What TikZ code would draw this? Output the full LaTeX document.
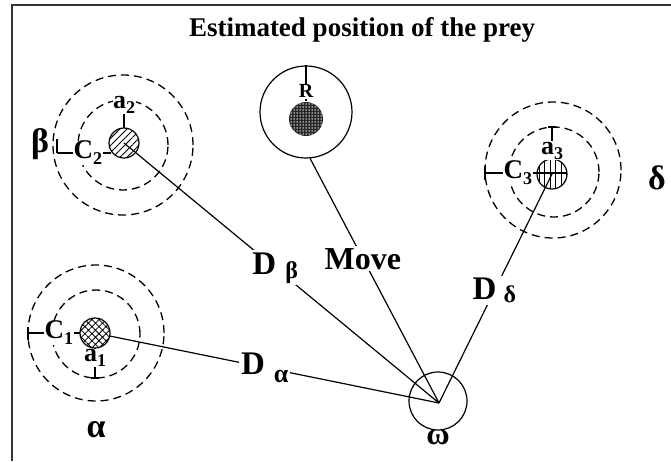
\documentclass[tikz,border=0pt]{standalone}
\usepackage{fontspec}
\setmainfont{Liberation Serif}
\usetikzlibrary{patterns.meta}
\newcommand{\lowtxt}[3]{\raisebox{-#1pt}{\fontsize{#2}{#2}\selectfont #3}}
\begin{document}
\begin{tikzpicture}[x=1pt,y=-1pt,line width=1.2pt,
  ring/.style={circle,draw,inner sep=0pt,dash pattern=on 8pt off 5pt,line width=1.3pt},
  smallc/.style={circle,draw,inner sep=0pt,minimum size=30pt,line width=1.2pt},
  lbl/.style={fill=white,inner sep=1pt},
  dlbl/.style={fill=white,inner sep=2pt,font=\fontsize{33}{33}\selectfont\bfseries},
  clbl/.style={fill=white,inner sep=0.5pt,font=\fontsize{27}{27}\selectfont\bfseries},
  albl/.style={fill=white,inner sep=0.5pt,font=\fontsize{26}{26}\selectfont\bfseries},
  glbl/.style={inner sep=0pt,font=\fontsize{34}{34}\selectfont\bfseries}]
\useasboundingbox (0,0) rectangle (671,461);
% frame
\draw[line width=1.6pt,black!80] (12,461) -- (12,5) -- (671,5);
% title
\node[inner sep=0pt,font=\fontsize{27}{28}\selectfont\bfseries] (title) at (362,30) {Estimated position of the prey};

% ---------- beta ----------
\node[ring,minimum size=140pt] (bO) at (123,145) {};
\node[ring,minimum size=90pt] (bI) at (123,145) {};
\node[smallc,pattern={Lines[angle=45,distance=5pt,line width=0.9pt]}] (b) at (124,143) {};
\coordinate (bT) at (57,153);
\draw (57,139) -- (bT);
\draw (bT) -- node[clbl,pos=0.57] (c2) {C\lowtxt{6}{18}{2}} (bT -| b.213);
\coordinate (bA) at (124,98);
\draw (b.north) -- node[albl,pos=0.78] (a2) {a\lowtxt{5}{18}{2}} (bA);
\node[glbl] (beta) at (40,144) {β};

% ---------- alpha ----------
\node[ring,minimum size=136pt] (aO) at (96,333) {};
\node[ring,minimum size=88pt] (aI) at (96,334) {};
\node[smallc,pattern={Hatch[angle=45,distance=5pt,line width=0.8pt]}] (a) at (95,333) {};
\coordinate (aT) at (28,333);
\draw (28,327) -- (28,340);
\draw (aT) -- node[clbl,pos=0.6] (c1) {C\lowtxt{6}{18}{1}} (aT -| a.west);
\coordinate (aA) at (95,378);
\draw (a.south) -- node[albl,pos=0.33] (a1) {a\lowtxt{5}{18}{1}} (aA);
\draw (91,378) -- (99,378);
\node[glbl] (alpha) at (96,430) {α};

% ---------- prey R ----------
\node[circle,draw,inner sep=0pt,minimum size=92pt,line width=1.2pt] (R) at (306,112) {};
\node[circle,inner sep=0pt,minimum size=34pt,fill=black!85,
      postaction={pattern={Dots[distance=3pt,radius=0.75pt]},pattern color=white}] (Rd) at (306,119) {};
\draw (R.north) -- node[lbl,pos=0.72,font=\fontsize{20}{20}\selectfont\bfseries] (Rl) {R} (Rd.north);

% ---------- delta ----------
\node[ring,minimum size=136pt] (dO) at (553,170) {};
\node[ring,minimum size=90pt] (dI) at (554,172) {};
\node[smallc,pattern={Lines[angle=90,distance=5.5pt,line width=0.9pt]}] (d) at (552,174) {};
\coordinate (dT) at (485,173);
\draw (485,166) -- (485,180);
\draw (dT) -- node[clbl,pos=0.4] (c3) {C\lowtxt{6}{18}{3}} (dT -| d.east);
\coordinate (dA) at (552,127);
\draw (d.north) -- node[albl,pos=0.25] (a3) {a\lowtxt{5}{18}{3}} (dA);
\draw (548,127) -- (556,127);
\node[glbl] (delta) at (657,178) {δ};

% ---------- omega ----------
\node[circle,draw,inner sep=0pt,minimum size=58pt,line width=1.2pt] (w) at (438,401) {};
\coordinate (wc) at (439,403);
\node[glbl,font=\fontsize{32}{32}\selectfont\bfseries] (omega) at (438,437) {ω};

% ---------- connectors ----------
\draw (b.center) -- node[dlbl,pos=0.48] (Db) {D\hspace{9pt}\lowtxt{4}{24}{β}} (wc);
\draw (a) -- node[dlbl,pos=0.47] (Da) {D\hspace{9pt}\lowtxt{8}{26}{α}} (wc);
\draw (R.-85) -- node[dlbl,pos=0.41,font=\fontsize{32}{32}\selectfont\bfseries] (mv) {Move} (wc);
\draw (d.center) -- node[dlbl,pos=0.51] (Dd) {D\hspace{7pt}\lowtxt{3}{24}{δ}} (wc);
\end{tikzpicture}
\end{document}
